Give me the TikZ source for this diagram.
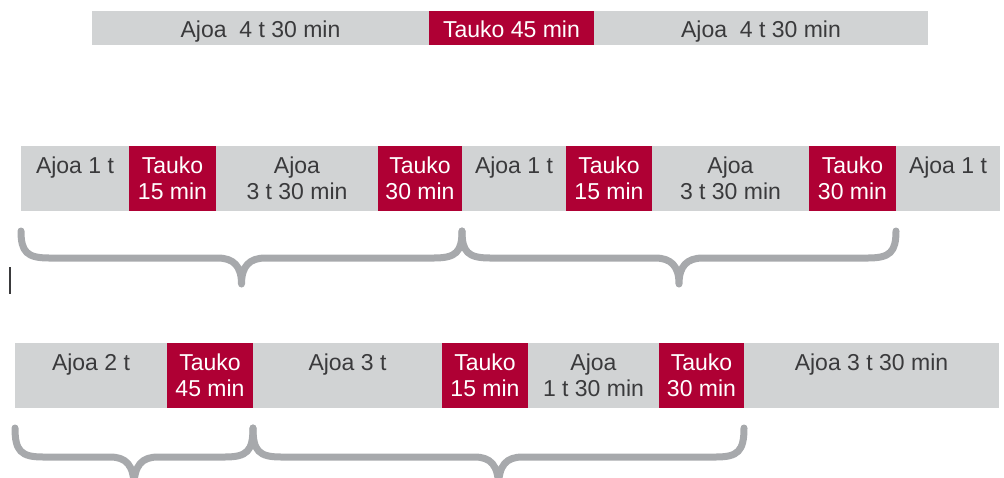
\documentclass[tikz,border=0pt]{standalone}
\usepackage{fontspec}
\setmainfont{Liberation Sans}
\usetikzlibrary{calc}
\definecolor{drivegray}{RGB}{209,211,212}
\definecolor{breakred}{RGB}{175,0,52}
\definecolor{bracegray}{RGB}{167,169,172}
\definecolor{inkgray}{RGB}{58,58,60}

% curly brace under a span: x0, x1, top of ends, middle line, tip
\newcommand{\drawbrace}[5]{%
  \pgfmathsetmacro{\bxc}{(#1+#2)/2}%
  \draw[bracefx] (#1,#3) .. controls (#1,#4-6) and (#1+6,#4) .. (#1+28,#4)
    -- (\bxc-24,#4) .. controls (\bxc-8,#4) and (\bxc,#4+8) .. (\bxc,#5)
    .. controls (\bxc,#4+8) and (\bxc+8,#4) .. (\bxc+24,#4)
    -- (#2-28,#4) .. controls (#2-6,#4) and (#2,#4-6) .. (#2,#3);}

\begin{document}
\begin{tikzpicture}[x=1pt,y=-1pt,
  seg/.style={draw=none,inner sep=0pt,outer sep=0pt,anchor=north west},
  drive/.style={seg,fill=drivegray},
  pause/.style={seg,fill=breakred},
  lbl/.style={inner sep=0pt,anchor=north,align=center,
    font=\fontsize{23}{26}\selectfont},
  drivetxt/.style={lbl,text=inkgray},
  pausetxt/.style={lbl,text=white},
  bracefx/.style={draw=bracegray,line width=7pt,line cap=round,line join=round}]
\useasboundingbox (0,0) rectangle (1004,477);
\clip (0,0) rectangle (1004,477);

% ---- row 1: 4 t 30 min + 45 min + 4 t 30 min
\begin{scope}[every node/.append style={minimum height=34pt}]
\node[drive,minimum width=337pt] (a1) at (92,11) {};
\node[pause,minimum width=165pt] (a2) at (429,11) {};
\node[drive,minimum width=334pt] (a3) at (594,11) {};
\end{scope}
\node[drivetxt] at ($(a1.north)+(0,9.5)$) {Ajoa~~4 t 30 min};
\node[pausetxt] at ($(a2.north)+(0,9.5)$) {Tauko 45 min};
\node[drivetxt] at ($(a3.north)+(0,9.5)$) {Ajoa~~4 t 30 min};

% ---- row 2: split breaks 15 + 30 min
\begin{scope}[every node/.append style={minimum height=65pt}]
\node[drive,minimum width=108pt] (b1) at (21,146) {};
\node[pause,minimum width=87pt]  (b2) at (129,146) {};
\node[drive,minimum width=162pt] (b3) at (216,146) {};
\node[pause,minimum width=84pt]  (b4) at (378,146) {};
\node[drive,minimum width=104pt] (b5) at (462,146) {};
\node[pause,minimum width=86pt]  (b6) at (566,146) {};
\node[drive,minimum width=157pt] (b7) at (652,146) {};
\node[pause,minimum width=87pt]  (b8) at (809,146) {};
\node[drive,minimum width=104pt] (b9) at (896,146) {};
\end{scope}
\node[drivetxt] at ($(b1.north)+(0,10.5)$) {Ajoa 1 t};
\node[pausetxt] at ($(b2.north)+(0,10.5)$) {Tauko\\15 min};
\node[drivetxt] at ($(b3.north)+(0,10.5)$) {Ajoa\\3 t 30 min};
\node[pausetxt] at ($(b4.north)+(0,10.5)$) {Tauko\\30 min};
\node[drivetxt] at ($(b5.north)+(0,10.5)$) {Ajoa 1 t};
\node[pausetxt] at ($(b6.north)+(0,10.5)$) {Tauko\\15 min};
\node[drivetxt] at ($(b7.north)+(0,10.5)$) {Ajoa\\3 t 30 min};
\node[pausetxt] at ($(b8.north)+(0,10.5)$) {Tauko\\30 min};
\node[drivetxt] at ($(b9.north)+(0,10.5)$) {Ajoa 1 t};

\drawbrace{21}{462}{231}{258}{284}
\drawbrace{462}{896}{231}{258}{284}

% text cursor mark
\draw[line width=2pt,draw=inkgray] (10,267) -- (10,294);

% ---- row 3: 45 min, then 15 + 30 min
\begin{scope}[every node/.append style={minimum height=65pt}]
\node[drive,minimum width=152pt] (c1) at (15,343) {};
\node[pause,minimum width=86pt]  (c2) at (167,343) {};
\node[drive,minimum width=189pt] (c3) at (253,343) {};
\node[pause,minimum width=86pt]  (c4) at (442,343) {};
\node[drive,minimum width=131pt] (c5) at (528,343) {};
\node[pause,minimum width=85pt]  (c6) at (659,343) {};
\node[drive,minimum width=255pt] (c7) at (744,343) {};
\end{scope}
\node[drivetxt] at ($(c1.north)+(0,10.5)$) {Ajoa 2 t};
\node[pausetxt] at ($(c2.north)+(0,10.5)$) {Tauko\\45 min};
\node[drivetxt] at ($(c3.north)+(0,10.5)$) {Ajoa 3 t};
\node[pausetxt] at ($(c4.north)+(0,10.5)$) {Tauko\\15 min};
\node[drivetxt] at ($(c5.north)+(0,10.5)$) {Ajoa\\1 t 30 min};
\node[pausetxt] at ($(c6.north)+(0,10.5)$) {Tauko\\30 min};
\node[drivetxt] at ($(c7.north)+(0,10.5)$) {Ajoa 3 t 30 min};

\drawbrace{15}{253}{428}{457}{487}
\drawbrace{253}{744}{428}{457}{487}
\end{tikzpicture}
\end{document}
